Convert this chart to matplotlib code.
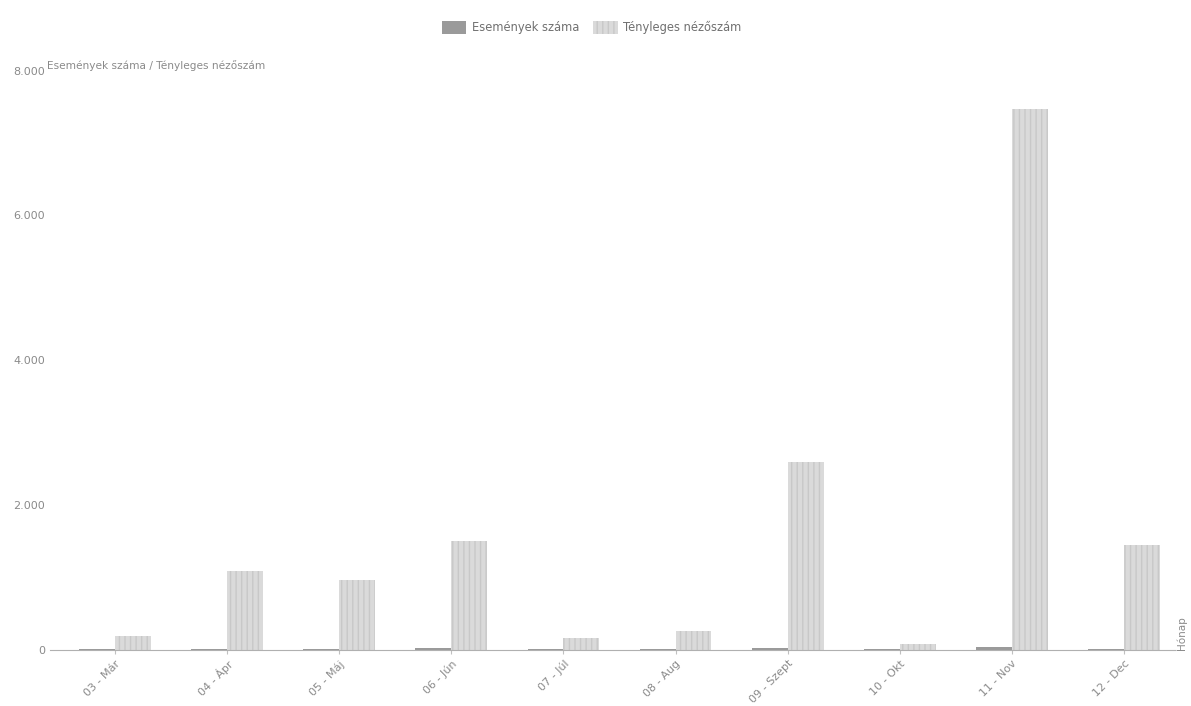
import matplotlib.pyplot as plt
import matplotlib.ticker as mticker
import numpy as np

honapok = ["03 - Már", "04 - Ápr", "05 - Máj", "06 - Jún", "07 - Júl",
           "08 - Aug", "09 - Szept", "10 - Okt", "11 - Nov", "12 - Dec"]
esemenyek = [3, 12, 10, 15, 2, 4, 20, 1, 40, 12]
nezoszam = [180, 1090, 965, 1500, 165, 250, 2590, 70, 7470, 1450]

plt.rcParams['font.family'] = ['DejaVu Sans']
txt = '#8a8a8a'

fig = plt.figure(figsize=(11.91, 7.06), dpi=100)
ax = fig.add_axes([0.042, 0.08, 0.945, 0.82])

x = np.arange(len(honapok))
w = 0.32
ax.bar(x - w / 2, esemenyek, w, color='#9a9a9a', label='Események száma')
ax.bar(x + w / 2, nezoszam, w, color='#dadada', edgecolor='#c8c8c8',
       hatch='|||', linewidth=0, label='Tényleges nézőszám')

ax.set_xlim(-0.58, 9.46)
ax.set_ylim(0, 8000)
ax.set_yticks([0, 2000, 4000, 6000, 8000])
ax.yaxis.set_major_formatter(mticker.FuncFormatter(
    lambda v, p: f"{int(v):,}".replace(",", ".")))
ax.set_xticks(x)
ax.set_xticklabels(honapok, rotation=45, ha='right', rotation_mode='anchor')

for s in ['top', 'right', 'left']:
    ax.spines[s].set_visible(False)
ax.spines['bottom'].set_color('#b0b0b0')
ax.spines['bottom'].set_linestyle((0, (2, 1)))
ax.tick_params(axis='y', length=0, colors=txt, labelsize=8)
ax.tick_params(axis='x', length=3, colors='#c0c0c0', labelcolor=txt, labelsize=8)

ax.text(-0.003, 1.0, 'Események száma / Tényleges nézőszám', transform=ax.transAxes,
        fontsize=7.6, color=txt, va='bottom', ha='left')
fig.text(1182 / 1191, 0.08, 'Hónap', rotation=90,
         fontsize=7.5, color=txt, va='bottom', ha='center')

leg = fig.legend(loc='upper center', bbox_to_anchor=(0.497, 0.985), ncol=2,
                 frameon=False, fontsize=8.3, handlelength=2.1, handleheight=1.3,
                 columnspacing=1.2, handletextpad=0.5)
for t in leg.get_texts():
    t.set_color('#707070')

fig.savefig('out.png', dpi=100, facecolor='white')
